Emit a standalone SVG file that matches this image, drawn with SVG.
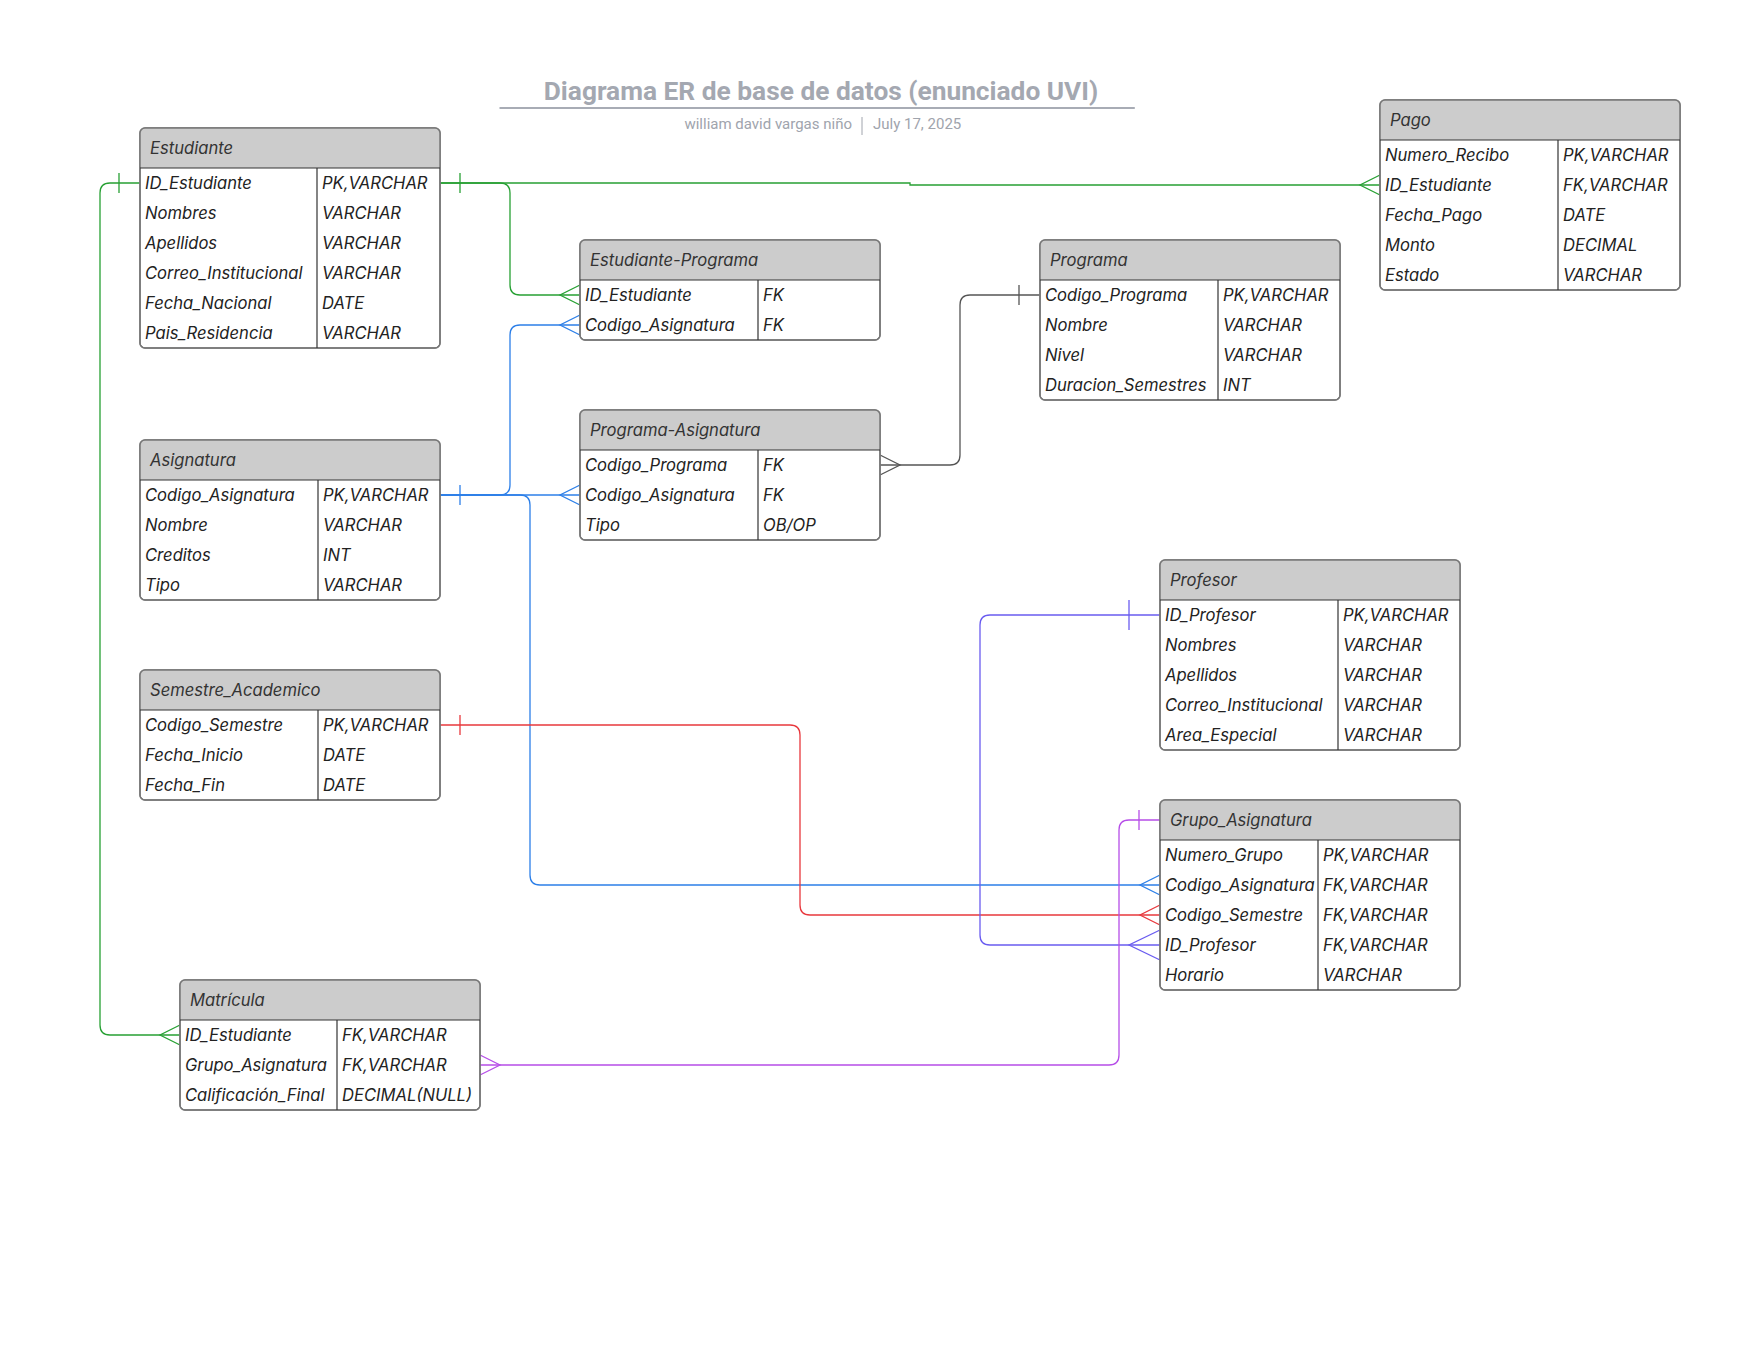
<svg xmlns="http://www.w3.org/2000/svg" width="1760" height="1360" viewBox="0 0 1760 1360">
  <style>
    .box { fill: #ffffff; stroke: #777777; stroke-width: 1.5; }
    .head { fill: #cccccc; }
    .sep { stroke: #333333; stroke-width: 1.2; fill: none; }
    .cell { font-family: Inter, "Liberation Sans", sans-serif; font-size: 16.6px; font-style: italic; fill: #222222; }
    .hdr { font-family: Inter, "Liberation Sans", sans-serif; font-size: 16.6px; font-style: italic; fill: #333333; }
    .conn { fill: none; stroke-width: 1.3; }
    .g { stroke: #27a033; }
    .b { stroke: #2c7fe8; }
    .r { stroke: #e8383d; }
    .v { stroke: #6a5cf0; }
    .m { stroke: #b64ee8; }
    .k { stroke: #555555; }
  </style>

  <!-- Title block -->
  <g id="title">
    <text x="821" y="100" text-anchor="middle" font-family="Roboto, 'Liberation Sans', sans-serif" font-size="26.3" font-weight="bold" fill="#a4a8b1">Diagrama ER de base de datos (enunciado UVI)</text>
    <line x1="499.5" y1="108" x2="1134.8" y2="108" stroke="#a8acb5" stroke-width="2"/>
    <text x="852" y="129" text-anchor="end" font-family="Roboto, 'Liberation Sans', sans-serif" font-size="15" fill="#a0a4ad">william david vargas niño</text>
    <line x1="862" y1="117" x2="862" y2="135" stroke="#a0a4ad" stroke-width="1"/>
    <text x="873" y="129" font-family="Roboto, 'Liberation Sans', sans-serif" font-size="15" fill="#a0a4ad">July 17, 2025</text>
  </g>

  <!-- Relationships -->
  <g id="connectors">
    <!-- Estudiante.ID_Estudiante -> Estudiante-Programa -->
    <path class="conn g" d="M440,183 H500 Q510,183 510,193 V285 Q510,295 520,295 H580"/>
    <path class="conn g" d="M580,285 L560,295 L580,305"/>
    <!-- Estudiante.ID_Estudiante -> Pago -->
    <path class="conn g" d="M440,183 H910 V185 H1380"/>
    <path class="conn g" d="M1380,175 L1360,185 L1380,195"/>
    <path class="conn g" d="M460,173 V193"/>
    <!-- Estudiante.ID_Estudiante -> Matrícula -->
    <path class="conn g" d="M140,183 H110 Q100,183 100,193 V1025 Q100,1035 110,1035 H180"/>
    <path class="conn g" d="M119,173 V193"/>
    <path class="conn g" d="M180,1025 L160,1035 L180,1045"/>

    <!-- Asignatura.Codigo_Asignatura -> Estudiante-Programa -->
    <path class="conn b" d="M440,495 H500 Q510,495 510,485 V335 Q510,325 520,325 H580"/>
    <path class="conn b" d="M580,315 L560,325 L580,335"/>
    <!-- Asignatura.Codigo_Asignatura -> Programa-Asignatura -->
    <path class="conn b" d="M440,495 H580"/>
    <path class="conn b" d="M580,485 L560,495 L580,505"/>
    <!-- Asignatura.Codigo_Asignatura -> Grupo_Asignatura -->
    <path class="conn b" d="M440,495 H520 Q530,495 530,505 V875 Q530,885 540,885 H1160"/>
    <path class="conn b" d="M1160,875 L1140,885 L1160,895"/>
    <path class="conn b" d="M460,485 V505"/>

    <!-- Semestre_Academico -> Grupo_Asignatura -->
    <path class="conn r" d="M440,725 H790 Q800,725 800,735 V905 Q800,915 810,915 H1160"/>
    <path class="conn r" d="M460,715 V735"/>
    <path class="conn r" d="M1160,905 L1140,915 L1160,925"/>

    <!-- Profesor -> Grupo_Asignatura -->
    <path class="conn v" d="M1160,615 H990 Q980,615 980,625 V935 Q980,945 990,945 H1160"/>
    <path class="conn v" d="M1129,600 V630"/>
    <path class="conn v" d="M1160,930 L1129,945 L1160,960"/>

    <!-- Grupo_Asignatura -> Matrícula -->
    <path class="conn m" d="M1160,820 H1129 Q1119,820 1119,830 V1055 Q1119,1065 1109,1065 H480"/>
    <path class="conn m" d="M1139,810 V830"/>
    <path class="conn m" d="M480,1055 L500,1065 L480,1075"/>

    <!-- Programa-Asignatura.Codigo_Programa -> Programa -->
    <path class="conn k" d="M880,465 H950 Q960,465 960,455 V305 Q960,295 970,295 H1040"/>
    <path class="conn k" d="M880,455 L900,465 L880,475"/>
    <path class="conn k" d="M1019,285 V305"/>
  </g>

  <!-- Estudiante -->
  <g id="estudiante">
    <rect class="box" x="140" y="128" width="300" height="220" rx="5"/>
    <path class="head" d="M145,128 H435 Q440,128 440,133 V168 H140 V133 Q140,128 145,128 Z"/>
    <rect x="140" y="128" width="300" height="220" rx="5" fill="none" stroke="#777777" stroke-width="1.5"/>
    <line class="sep" x1="140" y1="168" x2="440" y2="168"/>
    <line class="sep" x1="317" y1="168" x2="317" y2="348"/>
    <text class="hdr" x="150" y="154">Estudiante</text>
    <text class="cell" x="145" y="189">ID_Estudiante</text><text class="cell" x="322" y="189">PK,VARCHAR</text>
    <text class="cell" x="145" y="219">Nombres</text><text class="cell" x="322" y="219">VARCHAR</text>
    <text class="cell" x="145" y="249">Apellidos</text><text class="cell" x="322" y="249">VARCHAR</text>
    <text class="cell" x="145" y="279">Correo_Institucional</text><text class="cell" x="322" y="279">VARCHAR</text>
    <text class="cell" x="145" y="309">Fecha_Nacional</text><text class="cell" x="322" y="309">DATE</text>
    <text class="cell" x="145" y="339">Pais_Residencia</text><text class="cell" x="322" y="339">VARCHAR</text>
  </g>

  <!-- Estudiante-Programa -->
  <g id="estudiante-programa">
    <rect class="box" x="580" y="240" width="300" height="100" rx="5"/>
    <path class="head" d="M585,240 H875 Q880,240 880,245 V280 H580 V245 Q580,240 585,240 Z"/>
    <rect x="580" y="240" width="300" height="100" rx="5" fill="none" stroke="#777777" stroke-width="1.5"/>
    <line class="sep" x1="580" y1="280" x2="880" y2="280"/>
    <line class="sep" x1="758" y1="280" x2="758" y2="340"/>
    <text class="hdr" x="590" y="266">Estudiante-Programa</text>
    <text class="cell" x="585" y="301">ID_Estudiante</text><text class="cell" x="763" y="301">FK</text>
    <text class="cell" x="585" y="331">Codigo_Asignatura</text><text class="cell" x="763" y="331">FK</text>
  </g>

  <!-- Programa -->
  <g id="programa">
    <rect class="box" x="1040" y="240" width="300" height="160" rx="5"/>
    <path class="head" d="M1045,240 H1335 Q1340,240 1340,245 V280 H1040 V245 Q1040,240 1045,240 Z"/>
    <rect x="1040" y="240" width="300" height="160" rx="5" fill="none" stroke="#777777" stroke-width="1.5"/>
    <line class="sep" x1="1040" y1="280" x2="1340" y2="280"/>
    <line class="sep" x1="1218" y1="280" x2="1218" y2="400"/>
    <text class="hdr" x="1050" y="266">Programa</text>
    <text class="cell" x="1045" y="301">Codigo_Programa</text><text class="cell" x="1223" y="301">PK,VARCHAR</text>
    <text class="cell" x="1045" y="331">Nombre</text><text class="cell" x="1223" y="331">VARCHAR</text>
    <text class="cell" x="1045" y="361">Nivel</text><text class="cell" x="1223" y="361">VARCHAR</text>
    <text class="cell" x="1045" y="391">Duracion_Semestres</text><text class="cell" x="1223" y="391">INT</text>
  </g>

  <!-- Pago -->
  <g id="pago">
    <rect class="box" x="1380" y="100" width="300" height="190" rx="5"/>
    <path class="head" d="M1385,100 H1675 Q1680,100 1680,105 V140 H1380 V105 Q1380,100 1385,100 Z"/>
    <rect x="1380" y="100" width="300" height="190" rx="5" fill="none" stroke="#777777" stroke-width="1.5"/>
    <line class="sep" x1="1380" y1="140" x2="1680" y2="140"/>
    <line class="sep" x1="1558" y1="140" x2="1558" y2="290"/>
    <text class="hdr" x="1390" y="126">Pago</text>
    <text class="cell" x="1385" y="161">Numero_Recibo</text><text class="cell" x="1563" y="161">PK,VARCHAR</text>
    <text class="cell" x="1385" y="191">ID_Estudiante</text><text class="cell" x="1563" y="191">FK,VARCHAR</text>
    <text class="cell" x="1385" y="221">Fecha_Pago</text><text class="cell" x="1563" y="221">DATE</text>
    <text class="cell" x="1385" y="251">Monto</text><text class="cell" x="1563" y="251">DECIMAL</text>
    <text class="cell" x="1385" y="281">Estado</text><text class="cell" x="1563" y="281">VARCHAR</text>
  </g>

  <!-- Asignatura -->
  <g id="asignatura">
    <rect class="box" x="140" y="440" width="300" height="160" rx="5"/>
    <path class="head" d="M145,440 H435 Q440,440 440,445 V480 H140 V445 Q140,440 145,440 Z"/>
    <rect x="140" y="440" width="300" height="160" rx="5" fill="none" stroke="#777777" stroke-width="1.5"/>
    <line class="sep" x1="140" y1="480" x2="440" y2="480"/>
    <line class="sep" x1="318" y1="480" x2="318" y2="600"/>
    <text class="hdr" x="150" y="466">Asignatura</text>
    <text class="cell" x="145" y="501">Codigo_Asignatura</text><text class="cell" x="323" y="501">PK,VARCHAR</text>
    <text class="cell" x="145" y="531">Nombre</text><text class="cell" x="323" y="531">VARCHAR</text>
    <text class="cell" x="145" y="561">Creditos</text><text class="cell" x="323" y="561">INT</text>
    <text class="cell" x="145" y="591">Tipo</text><text class="cell" x="323" y="591">VARCHAR</text>
  </g>

  <!-- Programa-Asignatura -->
  <g id="programa-asignatura">
    <rect class="box" x="580" y="410" width="300" height="130" rx="5"/>
    <path class="head" d="M585,410 H875 Q880,410 880,415 V450 H580 V415 Q580,410 585,410 Z"/>
    <rect x="580" y="410" width="300" height="130" rx="5" fill="none" stroke="#777777" stroke-width="1.5"/>
    <line class="sep" x1="580" y1="450" x2="880" y2="450"/>
    <line class="sep" x1="758" y1="450" x2="758" y2="540"/>
    <text class="hdr" x="590" y="436">Programa-Asignatura</text>
    <text class="cell" x="585" y="471">Codigo_Programa</text><text class="cell" x="763" y="471">FK</text>
    <text class="cell" x="585" y="501">Codigo_Asignatura</text><text class="cell" x="763" y="501">FK</text>
    <text class="cell" x="585" y="531">Tipo</text><text class="cell" x="763" y="531">OB/OP</text>
  </g>

  <!-- Semestre_Academico -->
  <g id="semestre-academico">
    <rect class="box" x="140" y="670" width="300" height="130" rx="5"/>
    <path class="head" d="M145,670 H435 Q440,670 440,675 V710 H140 V675 Q140,670 145,670 Z"/>
    <rect x="140" y="670" width="300" height="130" rx="5" fill="none" stroke="#777777" stroke-width="1.5"/>
    <line class="sep" x1="140" y1="710" x2="440" y2="710"/>
    <line class="sep" x1="318" y1="710" x2="318" y2="800"/>
    <text class="hdr" x="150" y="696">Semestre_Academico</text>
    <text class="cell" x="145" y="731">Codigo_Semestre</text><text class="cell" x="323" y="731">PK,VARCHAR</text>
    <text class="cell" x="145" y="761">Fecha_Inicio</text><text class="cell" x="323" y="761">DATE</text>
    <text class="cell" x="145" y="791">Fecha_Fin</text><text class="cell" x="323" y="791">DATE</text>
  </g>

  <!-- Profesor -->
  <g id="profesor">
    <rect class="box" x="1160" y="560" width="300" height="190" rx="5"/>
    <path class="head" d="M1165,560 H1455 Q1460,560 1460,565 V600 H1160 V565 Q1160,560 1165,560 Z"/>
    <rect x="1160" y="560" width="300" height="190" rx="5" fill="none" stroke="#777777" stroke-width="1.5"/>
    <line class="sep" x1="1160" y1="600" x2="1460" y2="600"/>
    <line class="sep" x1="1338" y1="600" x2="1338" y2="750"/>
    <text class="hdr" x="1170" y="586">Profesor</text>
    <text class="cell" x="1165" y="621">ID_Profesor</text><text class="cell" x="1343" y="621">PK,VARCHAR</text>
    <text class="cell" x="1165" y="651">Nombres</text><text class="cell" x="1343" y="651">VARCHAR</text>
    <text class="cell" x="1165" y="681">Apellidos</text><text class="cell" x="1343" y="681">VARCHAR</text>
    <text class="cell" x="1165" y="711">Correo_Institucional</text><text class="cell" x="1343" y="711">VARCHAR</text>
    <text class="cell" x="1165" y="741">Area_Especial</text><text class="cell" x="1343" y="741">VARCHAR</text>
  </g>

  <!-- Grupo_Asignatura -->
  <g id="grupo-asignatura">
    <rect class="box" x="1160" y="800" width="300" height="190" rx="5"/>
    <path class="head" d="M1165,800 H1455 Q1460,800 1460,805 V840 H1160 V805 Q1160,800 1165,800 Z"/>
    <rect x="1160" y="800" width="300" height="190" rx="5" fill="none" stroke="#777777" stroke-width="1.5"/>
    <line class="sep" x1="1160" y1="840" x2="1460" y2="840"/>
    <line class="sep" x1="1318" y1="840" x2="1318" y2="990"/>
    <text class="hdr" x="1170" y="826">Grupo_Asignatura</text>
    <text class="cell" x="1165" y="861">Numero_Grupo</text><text class="cell" x="1323" y="861">PK,VARCHAR</text>
    <text class="cell" x="1165" y="891">Codigo_Asignatura</text><text class="cell" x="1323" y="891">FK,VARCHAR</text>
    <text class="cell" x="1165" y="921">Codigo_Semestre</text><text class="cell" x="1323" y="921">FK,VARCHAR</text>
    <text class="cell" x="1165" y="951">ID_Profesor</text><text class="cell" x="1323" y="951">FK,VARCHAR</text>
    <text class="cell" x="1165" y="981">Horario</text><text class="cell" x="1323" y="981">VARCHAR</text>
  </g>

  <!-- Matrícula -->
  <g id="matricula">
    <rect class="box" x="180" y="980" width="300" height="130" rx="5"/>
    <path class="head" d="M185,980 H475 Q480,980 480,985 V1020 H180 V985 Q180,980 185,980 Z"/>
    <rect x="180" y="980" width="300" height="130" rx="5" fill="none" stroke="#777777" stroke-width="1.5"/>
    <line class="sep" x1="180" y1="1020" x2="480" y2="1020"/>
    <line class="sep" x1="337" y1="1020" x2="337" y2="1110"/>
    <text class="hdr" x="190" y="1006">Matrícula</text>
    <text class="cell" x="185" y="1041">ID_Estudiante</text><text class="cell" x="342" y="1041">FK,VARCHAR</text>
    <text class="cell" x="185" y="1071">Grupo_Asignatura</text><text class="cell" x="342" y="1071">FK,VARCHAR</text>
    <text class="cell" x="185" y="1101">Calificación_Final</text><text class="cell" x="342" y="1101">DECIMAL(NULL)</text>
  </g>
</svg>
